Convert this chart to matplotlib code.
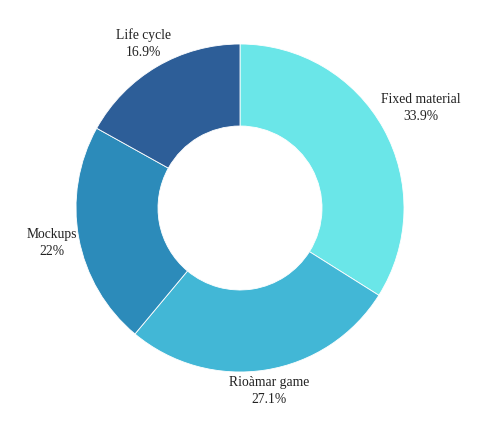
import matplotlib
matplotlib.use("Agg")
import matplotlib.pyplot as plt
import numpy as np

labels = ["Fixed material", "Rioàmar game", "Mockups", "Life cycle"]
shares = [33.9, 27.1, 22.0, 16.9]
pct_text = ["33.9%", "27.1%", "22%", "16.9%"]
colors = ["#6ae6e8", "#42b7d6", "#2c8bba", "#2d5e98"]

plt.rcParams['font.family'] = ['Liberation Serif', 'DejaVu Serif']

fig = plt.figure(figsize=(4.8, 4.24), dpi=100)
W, H = 480, 424
cx, cy, R = 240, 208, 164
ax = fig.add_axes([(cx - R) / W, (H - cy - R) / H, 2 * R / W, 2 * R / H])

wedges, _ = ax.pie(shares, colors=colors, startangle=90, counterclock=False,
                   radius=1.0, wedgeprops=dict(width=0.5, edgecolor='white', linewidth=0.6))
ax.set_xlim(-1, 1)
ax.set_ylim(-1, 1)
ax.axis('off')

# labels outside the ring, nearest edge of the text box touching the circle
texts = []
for w, lab, p in zip(wedges, labels, pct_text):
    t = ax.text(0, 0, f"{lab}\n{p}", ha='center', va='center', fontsize=9.8,
                color='#222222', linespacing=1.4, clip_on=False)
    texts.append((w, t))

fig.canvas.draw()
renderer = fig.canvas.get_renderer()
px_per_unit = R  # axes unit -> pixel
for w, t in texts:
    ang = np.deg2rad((w.theta1 + w.theta2) / 2)
    dx, dy = np.cos(ang), np.sin(ang)
    bb = t.get_window_extent(renderer)
    half_w, half_h = bb.width / 2, bb.height / 2
    off = (abs(dx) * half_w + abs(dy) * half_h) / px_per_unit
    r = 1.0 + off
    t.set_position((dx * r, dy * r))

fig.savefig("out.png", dpi=100, facecolor='white')
